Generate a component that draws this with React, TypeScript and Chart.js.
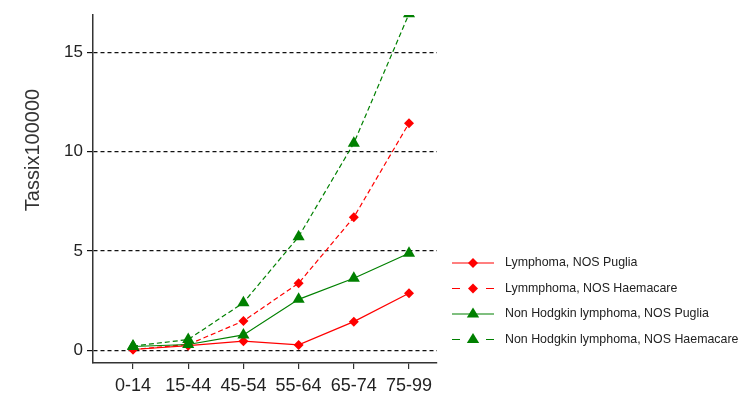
import React, { useEffect, useRef } from "react";
import { Chart, registerables } from "chart.js";

Chart.register(...registerables);

const categories = ["0-14", "15-44", "45-54", "55-64", "65-74", "75-99"];
const yTicks = [0, 5, 10, 15];
const lymphomaPuglia = [0.05, 0.24, 0.47, 0.28, 1.45, 2.88];
const lymphomaHaemacare = [0.05, 0.3, 1.48, 3.38, 6.7, 11.43];
const nhlPuglia = [0.2, 0.3, 0.78, 2.57, 3.63, 4.89];
const nhlHaemacare = [0.22, 0.55, 2.4, 5.72, 10.42, 16.93];
const seriesLabels = [
  "Lymphoma, NOS Puglia",
  "Lymmphoma, NOS Haemacare",
  "Non Hodgkin lymphoma, NOS Puglia",
  "Non Hodgkin lymphoma, NOS Haemacare",
];
const yTitle = "Tassix100000";

const RED = "#ff0000";
const GREEN = "#008000";
const FONT = "'Liberation Sans', Arial, sans-serif";

const toPoints = (vals: number[]) => vals.map((v, i) => ({ x: i, y: v }));

const legendPlugin = {
  id: "customLegend",
  afterDraw(chart: any) {
    const ctx = chart.ctx;
    ctx.save();
    const ds = chart.data.datasets;
    ds.forEach((d: any, i: number) => {
      const y = 263 + i * 25.5;
      const x0 = 452, x1 = 494, xm = 473;
      ctx.strokeStyle = d.borderColor;
      ctx.lineWidth = 1.2;
      ctx.setLineDash([]);
      ctx.beginPath();
      if (d.borderDash && d.borderDash.length) {
        ctx.moveTo(x0, y); ctx.lineTo(x0 + 8, y);
        ctx.moveTo(x1 - 8, y); ctx.lineTo(x1, y);
      } else {
        ctx.moveTo(x0, y); ctx.lineTo(x1, y);
      }
      ctx.stroke();
      ctx.fillStyle = d.pointBackgroundColor;
      ctx.beginPath();
      if (d.pointStyle === "triangle") {
        const r = 6.5;
        ctx.moveTo(xm, y - r);
        ctx.lineTo(xm + r * 0.95, y + r * 0.55);
        ctx.lineTo(xm - r * 0.95, y + r * 0.55);
      } else {
        const r = 5;
        ctx.moveTo(xm, y - r);
        ctx.lineTo(xm + r, y);
        ctx.lineTo(xm, y + r);
        ctx.lineTo(xm - r, y);
      }
      ctx.closePath();
      ctx.fill();
      ctx.fillStyle = "#222";
      ctx.font = "12.4px " + FONT;
      ctx.textAlign = "left";
      ctx.textBaseline = "middle";
      ctx.fillText(d.label, 505, y);
    });
    ctx.translate(33, 150);
    ctx.rotate(-Math.PI / 2);
    ctx.fillStyle = "#333";
    ctx.font = "20px " + FONT;
    ctx.textAlign = "center";
    ctx.textBaseline = "middle";
    ctx.fillText(yTitle, 0, 0);
    ctx.restore();
  },
};

export default function App() {
  const ref = useRef<HTMLCanvasElement>(null);
  useEffect(() => {
    const common = { borderWidth: 1.2, pointBorderWidth: 0, tension: 0 };
    const chart = new Chart(ref.current!, {
      type: "line",
      data: {
        datasets: [
          { ...common, label: seriesLabels[0], data: toPoints(lymphomaPuglia), borderColor: RED, backgroundColor: RED, pointBackgroundColor: RED, pointBorderColor: RED, pointStyle: "rectRot", pointRadius: 5, borderDash: [], order: 1 },
          { ...common, label: seriesLabels[1], data: toPoints(lymphomaHaemacare), borderColor: RED, backgroundColor: RED, pointBackgroundColor: RED, pointBorderColor: RED, pointStyle: "rectRot", pointRadius: 5, borderDash: [5, 3], order: 1 },
          { ...common, label: seriesLabels[2], data: toPoints(nhlPuglia), borderColor: GREEN, backgroundColor: GREEN, pointBackgroundColor: GREEN, pointBorderColor: GREEN, pointStyle: "triangle", pointRadius: 7, borderDash: [], order: 0 },
          { ...common, label: seriesLabels[3], data: toPoints(nhlHaemacare), borderColor: GREEN, backgroundColor: GREEN, pointBackgroundColor: GREEN, pointBorderColor: GREEN, pointStyle: "triangle", pointRadius: 7, borderDash: [5, 3], order: 0 },
        ] as any,
      },
      options: {
        animation: false,
        responsive: false,
        maintainAspectRatio: false,
        layout: { padding: { left: 0, top: 15, right: 316, bottom: 0 } },
        plugins: { legend: { display: false }, tooltip: { enabled: false } },
        scales: {
          x: {
            type: "linear",
            min: -0.725,
            max: 5.507,
            afterFit: (s: any) => { s.height = 35; },
            afterBuildTicks: (s: any) => { s.ticks = categories.map((_, i) => ({ value: i })); },
            ticks: {
              autoSkip: false,
              maxRotation: 0,
              padding: 6,
              color: "#222",
              font: { size: 18, family: FONT },
              callback: (v: any) => categories[Math.round(v)] ?? "",
            },
            grid: { drawOnChartArea: false, drawTicks: true, tickLength: 6, color: "#333", lineWidth: 1.2 },
            border: { display: true, color: "#333", width: 1.5 },
          },
          y: {
            type: "linear",
            min: -0.63,
            max: 16.87,
            afterFit: (s: any) => { s.width = 93; },
            afterBuildTicks: (s: any) => { s.ticks = yTicks.map((v) => ({ value: v })); },
            ticks: {
              padding: 4,
              color: "#222",
              font: { size: 17, family: FONT },
            },
            grid: {
              drawOnChartArea: true,
              drawTicks: true,
              tickLength: 6,
              color: "#111",
              lineWidth: 1.2,
              tickBorderDash: [],
            } as any,
            border: { display: true, color: "#333", width: 1.5, dash: [4, 3] } as any,
          },
        },
      } as any,
      plugins: [legendPlugin],
    });
    return () => chart.destroy();
  }, []);
  return (
    <div style={{ position: "absolute", left: 0, top: 0, width: 753, height: 398, background: "#fff" }}>
      <canvas ref={ref} width={753} height={398} style={{ width: 753, height: 398 }} />
    </div>
  );
}
